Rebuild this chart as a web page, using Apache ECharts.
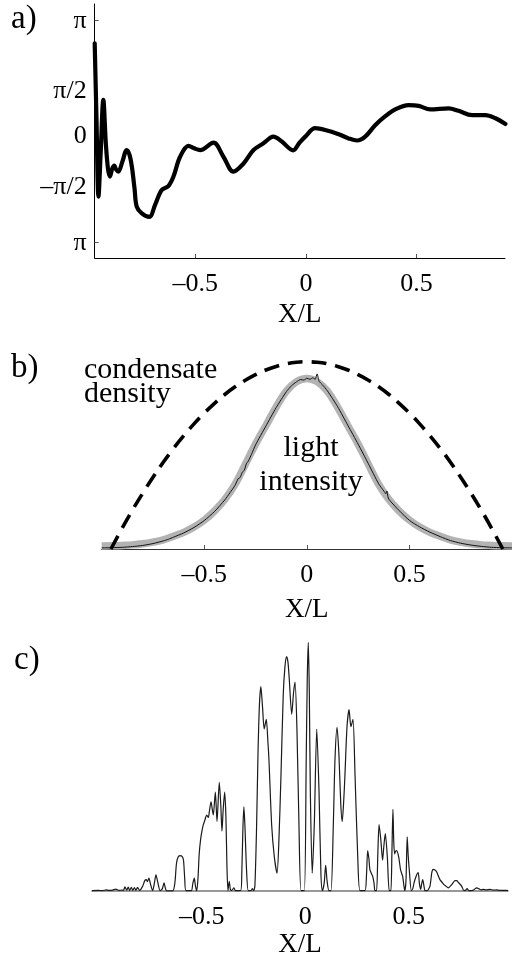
<!DOCTYPE html>
<html><head><meta charset="utf-8">
<script src="https://cdn.jsdelivr.net/npm/echarts@6/dist/echarts.min.js"></script>
<style>html,body{margin:0;padding:0;background:#fff}#c{width:512px;height:959px}</style>
</head><body><div id="c"></div>
<script>
// ---- panel a: phase vs X/L ----
const phaseData = [[-0.955,2.50],[-0.947,0.4],[-0.938,-1.84],[-0.928,-0.6],[-0.916,0.90],[-0.905,-0.3],[-0.895,-1.05],[-0.886,-1.27],[-0.876,-1.05],[-0.867,-0.96],[-0.857,-1.08],[-0.848,-1.13],[-0.83,-0.85],[-0.81,-0.52],[-0.798,-0.65],[-0.787,-0.99],[-0.775,-1.6],[-0.765,-2.12],[-0.742,-2.31],[-0.708,-2.41],[-0.682,-2.07],[-0.652,-1.65],[-0.622,-1.54],[-0.599,-1.27],[-0.569,-0.71],[-0.531,-0.40],[-0.505,-0.47],[-0.478,-0.52],[-0.418,-0.31],[-0.373,-0.71],[-0.328,-1.13],[-0.282,-0.90],[-0.237,-0.52],[-0.192,-0.33],[-0.147,-0.14],[-0.109,-0.28],[-0.058,-0.53],[-0.03,-0.32],[-0.003,-0.14],[0.042,0.10],[0.087,0.05],[0.148,-0.07],[0.193,-0.19],[0.231,-0.25],[0.268,-0.14],[0.314,0.19],[0.359,0.44],[0.404,0.63],[0.464,0.75],[0.51,0.73],[0.562,0.63],[0.645,0.66],[0.69,0.59],[0.751,0.47],[0.811,0.47],[0.857,0.38],[0.902,0.22]];
const yTickPosA = [-3.1416, -1.5708, -0.12, 1.15, 3.1416];
const yTickLabelsA = ['π', '–π/2', '0', 'π/2', 'π'];
const yTickMarksA = [-3.1416, 3.1416];

// ---- panel b: condensate density & light intensity ----
const densityData = [[-0.955,0],[-0.9,0.112],[-0.85,0.208],[-0.8,0.298],[-0.75,0.383],[-0.7,0.463],[-0.65,0.537],[-0.6,0.605],[-0.55,0.668],[-0.5,0.726],[-0.45,0.778],[-0.4,0.825],[-0.35,0.866],[-0.3,0.901],[-0.25,0.931],[-0.2,0.956],[-0.15,0.975],[-0.1,0.989],[-0.05,0.997],[0,1.0],[0.05,0.997],[0.1,0.989],[0.15,0.975],[0.2,0.956],[0.25,0.931],[0.3,0.901],[0.35,0.866],[0.4,0.825],[0.45,0.778],[0.5,0.726],[0.55,0.668],[0.6,0.605],[0.65,0.537],[0.7,0.463],[0.75,0.383],[0.8,0.298],[0.85,0.208],[0.9,0.112],[0.955,0]];
const lightFitData = [[-1,0.016],[-0.95,0.017],[-0.9,0.019],[-0.85,0.022],[-0.8,0.028],[-0.75,0.037],[-0.7,0.049],[-0.65,0.068],[-0.6,0.089],[-0.55,0.117],[-0.5,0.154],[-0.45,0.203],[-0.4,0.264],[-0.35,0.345],[-0.3,0.452],[-0.25,0.560],[-0.2,0.658],[-0.15,0.757],[-0.1,0.843],[-0.05,0.894],[0,0.911],[0.05,0.894],[0.1,0.843],[0.15,0.757],[0.2,0.658],[0.25,0.560],[0.3,0.452],[0.35,0.345],[0.4,0.264],[0.45,0.203],[0.5,0.154],[0.55,0.117],[0.6,0.089],[0.65,0.068],[0.7,0.049],[0.75,0.037],[0.8,0.028],[0.85,0.022],[0.9,0.019],[0.95,0.017],[1,0.016]];
const lightMeasData = [[-1,0.006],[-0.95,0.007],[-0.9,0.009],[-0.85,0.013],[-0.8,0.019],[-0.75,0.029],[-0.7,0.043],[-0.675,0.052],[-0.65,0.063],[-0.6,0.086],[-0.55,0.115],[-0.5,0.152],[-0.45,0.200],[-0.4,0.262],[-0.375,0.300],[-0.35,0.340],[-0.335,0.375],[-0.325,0.382],[-0.315,0.410],[-0.305,0.420],[-0.295,0.455],[-0.285,0.470],[-0.27,0.505],[-0.25,0.556],[-0.2,0.656],[-0.15,0.754],[-0.1,0.84],[-0.075,0.872],[-0.05,0.893],[-0.03,0.905],[-0.015,0.902],[0,0.912],[0.015,0.906],[0.03,0.915],[0.04,0.905],[0.05,0.935],[0.06,0.895],[0.075,0.878],[0.1,0.845],[0.15,0.76],[0.2,0.66],[0.25,0.56],[0.3,0.455],[0.35,0.348],[0.375,0.31],[0.385,0.295],[0.39,0.31],[0.395,0.28],[0.4,0.265],[0.45,0.205],[0.5,0.153],[0.55,0.118],[0.6,0.09],[0.65,0.066],[0.7,0.045],[0.75,0.031],[0.8,0.021],[0.85,0.014],[0.9,0.009],[0.95,0.007],[1,0.006]];

// ---- panel c: interference pattern ----
const fringeData = [[-1.03,0.002],[-1.0,0.003],[-0.98,0.002],[-0.96,0.005],[-0.95,0.003],[-0.93,0.004],[-0.915,0.008],[-0.90,0.003],[-0.885,0.004],[-0.878,0.003],[-0.871,0.017],[-0.862,0.004],[-0.855,0.016],[-0.848,0.003],[-0.84,0.015],[-0.833,0.003],[-0.825,0.014],[-0.818,0.003],[-0.81,0.015],[-0.80,0.003],[-0.785,0.02],[-0.775,0.042],[-0.768,0.046],[-0.762,0.038],[-0.755,0.052],[-0.748,0.03],[-0.737,0.002],[-0.729,0.03],[-0.721,0.065],[-0.712,0.035],[-0.701,0.002],[-0.69,0.01],[-0.682,0.033],[-0.675,0.01],[-0.669,0.001],[-0.64,0.001],[-0.63,0.03],[-0.622,0.11],[-0.615,0.135],[-0.605,0.143],[-0.595,0.14],[-0.588,0.125],[-0.582,0.05],[-0.576,0.002],[-0.55,0.002],[-0.543,0.03],[-0.536,0.052],[-0.53,0.02],[-0.524,0.001],[-0.518,0.05],[-0.512,0.15],[-0.505,0.209],[-0.498,0.245],[-0.492,0.267],[-0.484,0.287],[-0.476,0.306],[-0.468,0.296],[-0.463,0.32],[-0.455,0.359],[-0.449,0.33],[-0.444,0.306],[-0.434,0.398],[-0.426,0.28],[-0.415,0.437],[-0.408,0.35],[-0.402,0.241],[-0.396,0.33],[-0.389,0.398],[-0.383,0.3],[-0.378,0.1],[-0.373,0.002],[-0.367,0.039],[-0.361,0.005],[-0.355,0.003],[-0.344,0.013],[-0.337,0.002],[-0.312,0.002],[-0.306,0.08],[-0.301,0.25],[-0.296,0.339],[-0.291,0.26],[-0.283,0.08],[-0.275,0.002],[-0.262,0.002],[-0.255,0.01],[-0.249,0.002],[-0.243,0.02],[-0.235,0.25],[-0.228,0.55],[-0.221,0.75],[-0.214,0.822],[-0.206,0.74],[-0.198,0.652],[-0.188,0.691],[-0.18,0.6],[-0.175,0.528],[-0.162,0.267],[-0.149,0.137],[-0.136,0.072],[-0.127,0.202],[-0.117,0.463],[-0.106,0.789],[-0.098,0.90],[-0.09,0.943],[-0.083,0.92],[-0.077,0.854],[-0.065,0.711],[-0.056,0.80],[-0.049,0.841],[-0.04,0.659],[-0.03,0.267],[-0.02,0.002],[-0.004,0.002],[0.005,0.528],[0.01,0.85],[0.015,1.0],[0.02,0.8],[0.025,0.398],[0.034,0.072],[0.044,0.267],[0.056,0.652],[0.067,0.398],[0.076,0.072],[0.083,0.002],[0.092,0.033],[0.099,0.104],[0.106,0.04],[0.115,0.002],[0.125,0.002],[0.136,0.267],[0.144,0.528],[0.154,0.659],[0.163,0.55],[0.172,0.35],[0.179,0.28],[0.186,0.36],[0.192,0.463],[0.202,0.659],[0.212,0.73],[0.221,0.661],[0.231,0.691],[0.241,0.463],[0.254,0.137],[0.265,0.002],[0.289,0.002],[0.296,0.06],[0.302,0.163],[0.308,0.13],[0.313,0.085],[0.326,0.06],[0.333,0.03],[0.337,0.002],[0.345,0.002],[0.351,0.15],[0.357,0.267],[0.366,0.202],[0.374,0.124],[0.38,0.18],[0.387,0.231],[0.397,0.137],[0.406,0.002],[0.414,0.002],[0.419,0.15],[0.424,0.329],[0.428,0.2],[0.432,0.150],[0.437,0.16],[0.442,0.163],[0.452,0.137],[0.461,0.085],[0.471,0.059],[0.481,0.002],[0.487,0.04],[0.493,0.218],[0.498,0.14],[0.503,0.085],[0.513,0.002],[0.52,0.01],[0.526,0.033],[0.536,0.06],[0.546,0.074],[0.552,0.03],[0.558,0.007],[0.563,0.03],[0.568,0.046],[0.574,0.02],[0.579,0.002],[0.59,0.002],[0.603,0.02],[0.612,0.075],[0.619,0.087],[0.627,0.085],[0.635,0.078],[0.651,0.046],[0.671,0.026],[0.68,0.02],[0.691,0.013],[0.708,0.026],[0.724,0.042],[0.732,0.042],[0.74,0.035],[0.756,0.02],[0.767,0.002],[0.775,0.003],[0.783,0.01],[0.79,0.002],[0.81,0.003],[0.829,0.013],[0.84,0.009],[0.85,0.005],[0.86,0.007],[0.875,0.005],[0.893,0.007],[0.91,0.004],[0.925,0.005],[0.94,0.003],[0.955,0.003],[0.973,0.003],[0.98,0.002]];

const xTickVals = [-0.5, 0, 0.5];
const xTickLabels = ['–0.5', '0', '0.5'];
const xName = 'X/L';

const FONT = 'Liberation Serif';
function xAxisCfg(gi, min, max, nameGap, lineColor, lineWidth, showTicks) {
  return {
    type: 'value', gridIndex: gi, min: min, max: max,
    name: xName, nameLocation: 'middle', nameGap: nameGap,
    nameTextStyle: { fontFamily: FONT, fontSize: 27, color: '#000' },
    axisLine: { show: true, onZero: false, lineStyle: { color: lineColor, width: lineWidth } },
    axisTick: { show: showTicks, inside: true, length: 4, customValues: xTickVals, lineStyle: { color: '#555', width: 1 } },
    axisLabel: { show: true, margin: 13, customValues: xTickVals, fontFamily: FONT, fontSize: 26, color: '#000',
      formatter: function (v) { const i = xTickVals.indexOf(v); return i >= 0 ? xTickLabels[i] : ''; } },
    splitLine: { show: false }
  };
}

const chart = echarts.init(document.getElementById('c'), null, { renderer: 'canvas' });
chart.setOption({
  animation: false,
  backgroundColor: '#fff',
  grid: [
    { left: 94.7, width: 410.3, top: 4, height: 254 },
    { left: 101.7, width: 414, top: 343, height: 206 },
    { left: 92, width: 416, top: 635, height: 263.3 }
  ],
  xAxis: [
    xAxisCfg(0, -0.955, 0.9, 43, '#000', 1, true),
    xAxisCfg(1, -1, 1, 47, '#333', 1, true),
    xAxisCfg(2, -1.03, 0.98, 38, '#777', 1.5, false)
  ],
  yAxis: [
    { type: 'value', gridIndex: 0, min: -3.575, max: 3.614,
      axisLine: { show: true, onZero: false, lineStyle: { color: '#000', width: 1 } },
      axisTick: { show: true, inside: true, length: 4, customValues: yTickMarksA, lineStyle: { color: '#555' } },
      axisLabel: { show: true, margin: 8, customValues: yTickPosA, fontFamily: FONT, fontSize: 26, color: '#000',
        formatter: function (v) { let best = 0; for (let i = 0; i < yTickPosA.length; i++) if (Math.abs(yTickPosA[i]-v) < Math.abs(yTickPosA[best]-v)) best = i; return yTickLabelsA[best]; } },
      splitLine: { show: false } },
    { type: 'value', gridIndex: 1, min: 0, max: 1.1, show: false },
    { type: 'value', gridIndex: 2, min: 0, max: 1.03, show: false }
  ],
  series: [
    { type: 'line', xAxisIndex: 0, yAxisIndex: 0, data: phaseData, smooth: 0.35, showSymbol: false,
      lineStyle: { color: '#000', width: 4.2, join: 'round', cap: 'round' } },
    { type: 'line', xAxisIndex: 1, yAxisIndex: 1, data: lightFitData, smooth: 0.4, showSymbol: false,
      lineStyle: { color: '#b3b3b3', width: 7.5, join: 'round' } },
    { type: 'line', xAxisIndex: 1, yAxisIndex: 1, data: lightMeasData, smooth: 0.2, showSymbol: false,
      lineStyle: { color: '#111', width: 1 } },
    { type: 'line', xAxisIndex: 1, yAxisIndex: 1, data: densityData, smooth: 0.4, showSymbol: false,
      lineStyle: { color: '#000', width: 3.6, type: [15, 9], cap: 'butt' } },
    { type: 'line', xAxisIndex: 2, yAxisIndex: 2, data: fringeData, smooth: 0.25, showSymbol: false,
      lineStyle: { color: '#1a1a1a', width: 1.2 } }
  ],
  graphic: [
    { type: 'text', style: { text: 'a)', x: 11, y: 19, font: '33px "Liberation Serif"', fill: '#000', verticalAlign: 'middle' } },
    { type: 'text', style: { text: 'b)', x: 11, y: 368, font: '33px "Liberation Serif"', fill: '#000', verticalAlign: 'middle' } },
    { type: 'text', style: { text: 'c)', x: 14, y: 660, font: '33px "Liberation Serif"', fill: '#000', verticalAlign: 'middle' } },
    { type: 'text', style: { text: 'condensate', x: 84, y: 370, font: '30px "Liberation Serif"', fill: '#000', verticalAlign: 'middle' } },
    { type: 'text', style: { text: 'density', x: 84, y: 394, font: '30px "Liberation Serif"', fill: '#000', verticalAlign: 'middle' } },
    { type: 'text', style: { text: 'light', x: 311, y: 448, font: '30px "Liberation Serif"', fill: '#000', align: 'center', verticalAlign: 'middle' } },
    { type: 'text', style: { text: 'intensity', x: 311, y: 482, font: '30px "Liberation Serif"', fill: '#000', align: 'center', verticalAlign: 'middle' } }
  ]
});
</script>
</body></html>
